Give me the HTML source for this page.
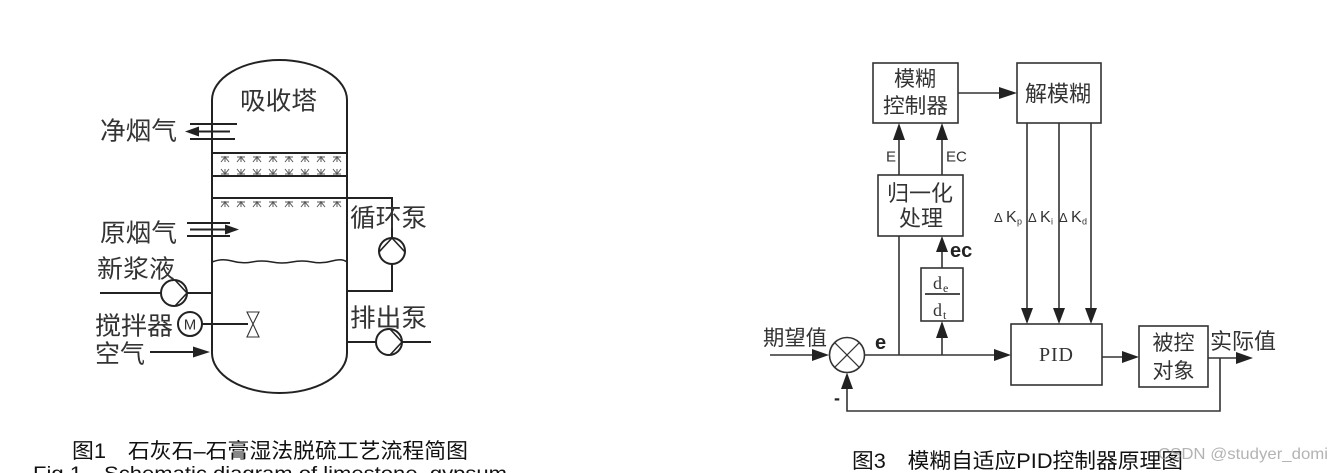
<!DOCTYPE html>
<html><head><meta charset="utf-8">
<style>
html,body{margin:0;padding:0;background:#fff;}
svg{display:block;}
.cj{font-family:"Liberation Sans","Noto Sans CJK SC",sans-serif;fill:#333;}
.sf{font-family:"Liberation Serif","Noto Serif CJK SC",serif;fill:#333;}
.ls{font-family:"Liberation Sans",sans-serif;fill:#333;}
</style></head>
<body>
<svg width="1343" height="473" viewBox="0 0 1343 473" xmlns="http://www.w3.org/2000/svg" style="font-family:'Liberation Sans','Noto Sans CJK SC',sans-serif">
<rect width="1343" height="473" fill="#fff"/>

<!-- ================= LEFT: absorber tower ================= -->
<g stroke="#222" stroke-width="2" fill="none">
  <path d="M212,353 L212,100 A67.5,40 0 0 1 347,100 L347,353 A67.5,40 0 0 1 212,353 Z"/>
  <line x1="212" y1="153" x2="347" y2="153"/>
  <line x1="212" y1="176" x2="347" y2="176"/>
  <polyline points="212,198 392,198 392,238"/>
  <path d="M212,262 Q222,258 232,261 T252,262 T272,262 T292,262 T312,262 T332,261 T347,262" stroke-width="1.5"/>
  <line x1="190" y1="124" x2="237" y2="124"/>
  <line x1="190" y1="139" x2="235" y2="139"/>
  <line x1="197" y1="131.5" x2="230" y2="131.5"/>
  <line x1="187" y1="223" x2="230" y2="223"/>
  <line x1="187" y1="236" x2="230" y2="236"/>
  <line x1="190" y1="229.5" x2="226" y2="229.5"/>
  <line x1="100" y1="293" x2="161" y2="293"/>
  <line x1="187" y1="293" x2="212" y2="293"/>
  <circle cx="174" cy="293" r="13"/>
  <polyline points="175,280 187,293 175,306" stroke-width="1.6"/>
  <circle cx="392" cy="251" r="13"/>
  <polyline points="379,252 392,238 405,252" stroke-width="1.6"/>
  <polyline points="392,264 392,291 347,291"/>
  <circle cx="389" cy="342" r="13"/>
  <polyline points="390,329 402,342 390,355" stroke-width="1.6"/>
  <line x1="347" y1="342" x2="376" y2="342"/>
  <line x1="402" y1="342" x2="431" y2="342"/>
  <circle cx="190" cy="324" r="12"/>
  <line x1="202" y1="324" x2="248" y2="324"/>
  <line x1="150" y1="352" x2="196" y2="352"/>
</g>
<polygon points="185,131.5 199,126.5 199,136.5" fill="#222"/>
<polygon points="239,229.5 225,224.5 225,234.5" fill="#222"/>
<polygon points="210,352 193,346.5 193,357.5" fill="#222"/>
<g stroke="#333" stroke-width="1.1" fill="none">
  <polygon points="247,312 259,312 253,324"/>
  <polygon points="247,337 259,337 253,324"/>
</g>
<text x="190" y="329.5" font-size="15" text-anchor="middle" fill="#222" class="ls">M</text>

<!-- spray nozzles -->
<g stroke="#555" stroke-width="1" fill="none">
  <path d="M221,157 h8 M225,156 v6 M225,157 l-4,5 M225,157 l4,5
           M237,157 h8 M241,156 v6 M241,157 l-4,5 M241,157 l4,5
           M253,157 h8 M257,156 v6 M257,157 l-4,5 M257,157 l4,5
           M269,157 h8 M273,156 v6 M273,157 l-4,5 M273,157 l4,5
           M285,157 h8 M289,156 v6 M289,157 l-4,5 M289,157 l4,5
           M301,157 h8 M305,156 v6 M305,157 l-4,5 M305,157 l4,5
           M317,157 h8 M321,156 v6 M321,157 l-4,5 M321,157 l4,5
           M333,157 h8 M337,156 v6 M337,157 l-4,5 M337,157 l4,5"/>
  <path d="M221,174 h8 M225,175 v-6 M225,174 l-4,-5 M225,174 l4,-5
           M237,174 h8 M241,175 v-6 M241,174 l-4,-5 M241,174 l4,-5
           M253,174 h8 M257,175 v-6 M257,174 l-4,-5 M257,174 l4,-5
           M269,174 h8 M273,175 v-6 M273,174 l-4,-5 M273,174 l4,-5
           M285,174 h8 M289,175 v-6 M289,174 l-4,-5 M289,174 l4,-5
           M301,174 h8 M305,175 v-6 M305,174 l-4,-5 M305,174 l4,-5
           M317,174 h8 M321,175 v-6 M321,174 l-4,-5 M321,174 l4,-5
           M333,174 h8 M337,175 v-6 M337,174 l-4,-5 M337,174 l4,-5"/>
  <path d="M221,202 h8 M225,201 v6 M225,202 l-4,5 M225,202 l4,5
           M237,202 h8 M241,201 v6 M241,202 l-4,5 M241,202 l4,5
           M253,202 h8 M257,201 v6 M257,202 l-4,5 M257,202 l4,5
           M269,202 h8 M273,201 v6 M273,202 l-4,5 M273,202 l4,5
           M285,202 h8 M289,201 v6 M289,202 l-4,5 M289,202 l4,5
           M301,202 h8 M305,201 v6 M305,202 l-4,5 M305,202 l4,5
           M317,202 h8 M321,201 v6 M321,202 l-4,5 M321,202 l4,5
           M333,202 h8 M337,201 v6 M337,202 l-4,5 M337,202 l4,5"/>
</g>

<!-- left labels -->
<g class="cj" font-size="25" fill="#3a3a3a">
  <text x="240" y="109.5" textLength="77" lengthAdjust="spacingAndGlyphs">吸收塔</text>
  <text x="100" y="139.5" textLength="77" lengthAdjust="spacingAndGlyphs">净烟气</text>
  <text x="100" y="241.5" textLength="77" lengthAdjust="spacingAndGlyphs">原烟气</text>
  <text x="350" y="226.5" textLength="77" lengthAdjust="spacingAndGlyphs">循环泵</text>
  <text x="97" y="277.5" textLength="78" lengthAdjust="spacingAndGlyphs">新浆液</text>
  <text x="95" y="334.5" textLength="78" lengthAdjust="spacingAndGlyphs">搅拌器</text>
  <text x="95" y="362.5" textLength="50" lengthAdjust="spacingAndGlyphs">空气</text>
  <text x="350" y="326.5" textLength="77" lengthAdjust="spacingAndGlyphs">排出泵</text>
</g>
<text x="72" y="458" font-size="21" fill="#111" class="cj" style="fill:#111" textLength="396" lengthAdjust="spacingAndGlyphs">图1　石灰石–石膏湿法脱硫工艺流程简图</text>
<text x="33" y="480" font-size="19" class="ls" style="fill:#111" textLength="474" lengthAdjust="spacingAndGlyphs">Fig.1　Schematic diagram of limestone–gypsum</text>

<!-- ================= RIGHT: fuzzy PID ================= -->
<g stroke="#333" stroke-width="1.6" fill="none">
  <rect x="873" y="63" width="85" height="60"/>
  <rect x="1017" y="63" width="84" height="60"/>
  <rect x="878" y="175" width="85" height="61"/>
  <rect x="921" y="268" width="42" height="53"/>
  <rect x="1011" y="324" width="91" height="61"/>
  <rect x="1139" y="326" width="69" height="61"/>
  <line x1="958" y1="93" x2="1000" y2="93"/>
  <line x1="899" y1="175" x2="899" y2="138"/>
  <line x1="942" y1="175" x2="942" y2="138"/>
  <line x1="942" y1="268" x2="942" y2="250"/>
  <line x1="942" y1="355" x2="942" y2="336"/>
  <line x1="899" y1="236" x2="899" y2="355"/>
  <line x1="864.5" y1="355" x2="995" y2="355"/>
  <line x1="770" y1="355" x2="813" y2="355"/>
  <line x1="1027" y1="123" x2="1027" y2="309"/>
  <line x1="1059" y1="123" x2="1059" y2="309"/>
  <line x1="1091" y1="123" x2="1091" y2="309"/>
  <line x1="1102" y1="357" x2="1123" y2="357"/>
  <line x1="1208" y1="358" x2="1237" y2="358"/>
  <polyline points="1220,358 1220,411 847,411 847,388"/>
  <circle cx="847" cy="355" r="17.5"/>
  <line x1="834.6" y1="342.6" x2="859.4" y2="367.4" stroke-width="1.2"/>
  <line x1="859.4" y1="342.6" x2="834.6" y2="367.4" stroke-width="1.2"/>
  <line x1="925" y1="294" x2="960" y2="294" stroke-width="1.8"/>
</g>
<g fill="#222">
  <polygon points="1017,93 999,87 999,99"/>
  <polygon points="899,123 893,140 905,140"/>
  <polygon points="942,123 936,140 948,140"/>
  <polygon points="942,236 936,252 948,252"/>
  <polygon points="942,321 936,338 948,338"/>
  <polygon points="1011,355 994,349 994,361"/>
  <polygon points="829,355 812,349 812,361"/>
  <polygon points="1027,324 1021,308 1033,308"/>
  <polygon points="1059,324 1053,308 1065,308"/>
  <polygon points="1091,324 1085,308 1097,308"/>
  <polygon points="1139,357 1122,351 1122,363"/>
  <polygon points="1253,358 1236,352 1236,364"/>
  <polygon points="847,372.5 841,389 853,389"/>
</g>

<!-- right labels -->
<g class="cj" font-size="21" text-anchor="middle">
  <text x="915" y="86">模糊</text>
  <text x="915.5" y="113" textLength="65" lengthAdjust="spacingAndGlyphs">控制器</text>
  <text x="1058" y="101.5" font-size="22" textLength="66" lengthAdjust="spacingAndGlyphs">解模糊</text>
  <text x="920" y="201" font-size="22" textLength="66" lengthAdjust="spacingAndGlyphs">归一化</text>
  <text x="921" y="226" font-size="22">处理</text>
  <text x="1173.5" y="350">被控</text>
  <text x="1173.5" y="378">对象</text>
</g>
<g class="cj" font-size="21">
  <text x="763" y="345" textLength="64" lengthAdjust="spacingAndGlyphs">期望值</text>
  <text x="1210" y="349" font-size="22" textLength="66" lengthAdjust="spacingAndGlyphs">实际值</text>
</g>
<g class="ls">
  <text x="886" y="161.5" font-size="15">E</text>
  <text x="946" y="161.5" font-size="15">EC</text>
  <text x="950" y="257" font-size="20" font-weight="bold" style="fill:#222">ec</text>
  <text x="875" y="349" font-size="20" font-weight="bold" style="fill:#222">e</text>
  <text x="834" y="404" font-size="18" font-weight="bold" style="fill:#222">-</text>
  <text x="994" y="222" font-size="13">Δ</text>
  <text x="1006" y="222" font-size="16">K</text>
  <text x="1017" y="224.5" font-size="9">p</text>
  <text x="1028" y="222" font-size="13">Δ</text>
  <text x="1040" y="222" font-size="16">K</text>
  <text x="1051" y="224.5" font-size="9">i</text>
  <text x="1059" y="222" font-size="13">Δ</text>
  <text x="1071" y="222" font-size="16">K</text>
  <text x="1082" y="224.5" font-size="9">d</text>
</g>
<g class="sf">
  <text x="933" y="289" font-size="18">d</text>
  <text x="943" y="292" font-size="12">e</text>
  <text x="933" y="316" font-size="18">d</text>
  <text x="943" y="319" font-size="12">t</text>
  <text x="1039" y="361" font-size="20" textLength="34" lengthAdjust="spacing">PID</text>
</g>
<text x="852" y="468" font-size="21" class="cj" style="fill:#111" textLength="331" lengthAdjust="spacingAndGlyphs">图3　模糊自适应PID控制器原理图</text>
<text x="1158" y="459" font-size="16" class="ls" style="fill:#9a9a9a" fill-opacity="0.75" textLength="170" lengthAdjust="spacingAndGlyphs">CSDN @studyer_domi</text>
</svg>
</body></html>
